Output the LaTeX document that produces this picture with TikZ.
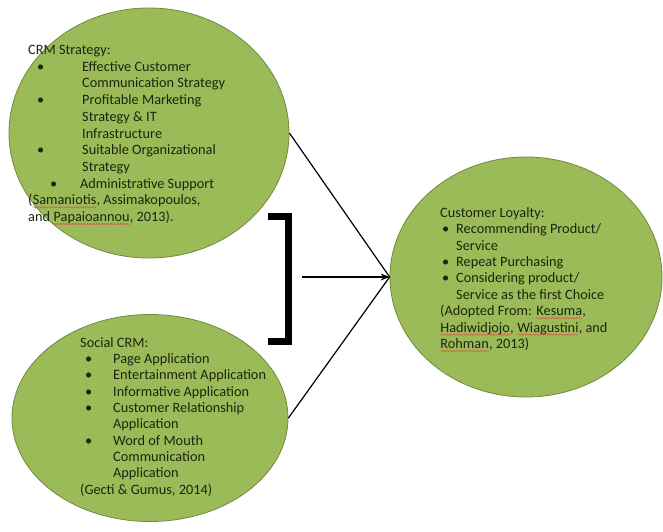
\documentclass[tikz,border=0pt]{standalone}
\usepackage{fontspec}
\setmainfont{Carlito}
\usetikzlibrary{shapes.geometric,arrows.meta,decorations.pathmorphing}
\definecolor{leaf}{HTML}{9BBB59}
\definecolor{leafedge}{HTML}{71893F}
\definecolor{ink}{HTML}{1E2410}
\definecolor{squig}{HTML}{D9534A}
\newcommand\spl[1]{\tikz[baseline=(w.base)]{\node[inner sep=0pt,outer sep=0pt] (w) {#1};
  \draw[squig, line width=0.5pt, decorate, decoration={snake,amplitude=0.7pt,segment length=3pt}]
  ([yshift=-2.5pt]w.base west) -- ([yshift=-2.5pt]w.base east);}}
\newcommand\bl[3]{\hspace*{#1pt}\makebox[#2pt][l]{\textbullet}#3}
\begin{document}
\begin{tikzpicture}[x=1pt,y=-1pt,
  bubble/.style={ellipse, draw=leafedge, line width=0.8pt, fill=leaf, inner sep=0pt},
  blurb/.style={anchor=base west, inner sep=0pt, align=left, text=ink},
  link/.style={draw=black, line width=1.2pt},
  brace/.style={draw=black, line width=7pt, line join=miter}]
\useasboundingbox (0,0) rectangle (663,532);
\node[bubble, minimum width=280pt, minimum height=250pt] (crm) at (149,133) {};
\node[bubble, minimum width=276pt, minimum height=207pt] (scrm) at (150,418) {};
\node[bubble, minimum width=272pt, minimum height=240pt] (loyal) at (526,277) {};
\node[blurb, font=\fontsize{14.3}{16.7}\selectfont] (crmtext) at (28,221.5) {CRM Strategy:\\
\bl{9}{45}{Effective Customer}\\
\hspace*{54pt}Communication Strategy\\
\bl{9}{45}{Profitable Marketing}\\
\hspace*{54pt}Strategy \& IT\\
\hspace*{54pt}Infrastructure\\
\bl{9}{45}{Suitable Organizational}\\
\hspace*{54pt}Strategy\\
\bl{22}{30}{Administrative Support}\\
(\spl{Samaniotis}, Assimakopoulos,\\
and \spl{Papaioannou}, 2013).};
\node[blurb, font=\fontsize{14.3}{16.3}\selectfont] (scrmtext) at (80,494) {Social CRM:\\
\bl{5}{28}{Page Application}\\
\bl{5}{28}{Entertainment Application}\\
\bl{5}{28}{Informative Application}\\
\bl{5}{28}{Customer Relationship}\\
\hspace*{33pt}Application\\
\bl{5}{28}{Word of Mouth}\\
\hspace*{33pt}Communication\\
\hspace*{33pt}Application\\
(Gecti \& Gumus, 2014)};
\node[blurb, font=\fontsize{14.3}{16.4}\selectfont] (loyaltext) at (440,348.5) {Customer Loyalty:\\
\bl{2}{14}{Recommending Product/}\\
\hspace*{16pt}Service\\
\bl{2}{14}{Repeat Purchasing}\\
\bl{2}{14}{Considering product/}\\
\hspace*{16pt}Service as the first Choice\\
(Adopted From: \spl{Kesuma},\\
\spl{Hadiwidjojo}, \spl{Wiagustini}, and\\
\spl{Rohman}, 2013)};
\coordinate (bracetop) at (268,216.5);
\coordinate (bracebot) at (268,341);
\coordinate (braceout) at (302,277);
\draw[brace] (bracetop) -| (288,341) -- (bracebot);
\draw[link] (crm.east) -- (loyal.west);
\draw[link] (scrm.east) -- (loyal.west);
\draw[link, -{Stealth[length=9pt,width=7pt]}] (braceout) -- (loyal.west);
\end{tikzpicture}
\end{document}
